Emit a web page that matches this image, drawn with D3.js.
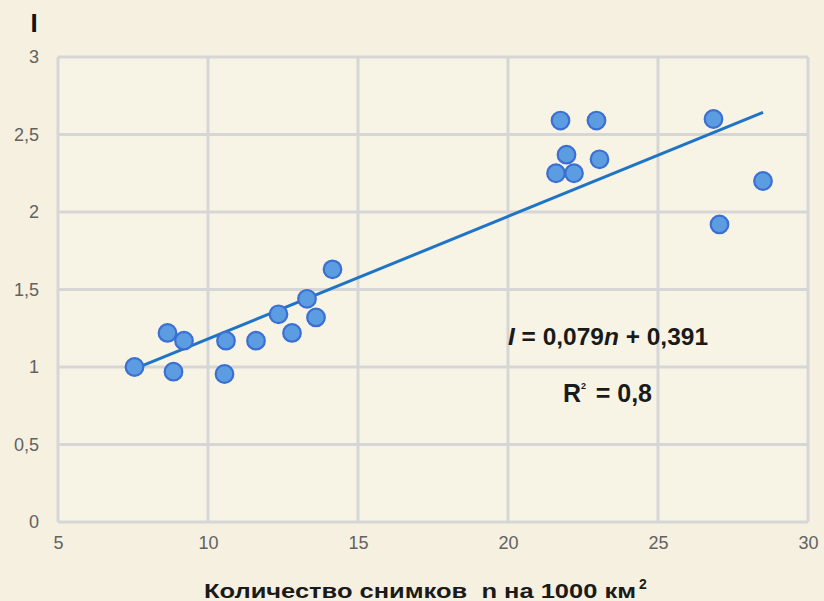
<!DOCTYPE html>
<html>
<head>
<meta charset="utf-8">
<script src="https://cdn.jsdelivr.net/npm/d3@7"></script>
<style>
  html, body { margin: 0; padding: 0; background: #f5f0e0; }
  svg { display: block; }
</style>
</head>
<body>
<svg id="chart"></svg>
<script>
// точки: количество снимков n и показатель I
const nValues = [7.55, 8.65, 8.85, 9.2, 10.6, 10.55, 11.6, 12.35, 12.8, 13.3, 13.6, 14.15,
                 21.75, 22.95, 21.95, 21.6, 22.2, 23.05, 26.85, 28.5, 27.05];
const iValues = [1.0, 1.22, 0.97, 1.17, 1.17, 0.955, 1.17, 1.34, 1.22, 1.44, 1.32, 1.63,
                 2.59, 2.59, 2.37, 2.25, 2.25, 2.34, 2.6, 2.2, 1.92];
const xTicks = [5, 10, 15, 20, 25, 30];
const yTicks = [0, 0.5, 1, 1.5, 2, 2.5, 3];
const slope = 0.079, intercept = 0.391;

const width = 824, height = 601;
const margin = { top: 57, right: 15, bottom: 79, left: 58 };
const font = "'Liberation Sans', Arial, sans-serif";

const svg = d3.select("#chart")
    .attr("width", width)
    .attr("height", height);

const x = d3.scaleLinear().domain([5, 30]).range([margin.left, width - margin.right - 1]);
const y = d3.scaleLinear().domain([0, 3]).range([height - margin.bottom, margin.top]);

const fmt = d => String(d).replace(".", ",");

// фон области построения
svg.append("rect")
    .attr("x", x(5)).attr("y", y(3))
    .attr("width", x(30) - x(5)).attr("height", y(0) - y(3))
    .attr("fill", "#f8f4e5");

// сетка
const grid = svg.append("g");
grid.selectAll(".vgrid").data(xTicks).enter().append("line")
    .attr("x1", d => x(d)).attr("x2", d => x(d))
    .attr("y1", y(0)).attr("y2", y(3))
    .attr("stroke", "#d6d6d6").attr("stroke-width", 3);
grid.selectAll(".hgrid").data(yTicks).enter().append("line")
    .attr("x1", x(5)).attr("x2", x(30))
    .attr("y1", d => y(d)).attr("y2", d => y(d))
    .attr("stroke", "#d6d6d6").attr("stroke-width", 3);

// оси (только подписи)
const xAxis = svg.append("g")
    .attr("transform", `translate(0,${y(0)})`)
    .call(d3.axisBottom(x).tickValues(xTicks).tickSize(0).tickPadding(14).tickFormat(fmt));
const yAxis = svg.append("g")
    .attr("transform", `translate(${x(5)},0)`)
    .call(d3.axisLeft(y).tickValues(yTicks).tickSize(0).tickPadding(19).tickFormat(fmt));
[xAxis, yAxis].forEach(a => {
    a.select(".domain").remove();
    a.selectAll("text")
        .style("font-family", font)
        .style("font-size", "18px")
        .attr("fill", "#626262");
});

// линия тренда
const nMin = d3.min(nValues), nMax = d3.max(nValues);
svg.append("line")
    .attr("x1", x(nMin)).attr("y1", y(slope * nMin + intercept))
    .attr("x2", x(nMax)).attr("y2", y(slope * nMax + intercept))
    .attr("stroke", "#1f74c6").attr("stroke-width", 3);

// точки
svg.selectAll(".dot").data(nValues).enter().append("circle")
    .attr("cx", d => x(d))
    .attr("cy", (d, i) => y(iValues[i]))
    .attr("r", 8.8)
    .attr("fill", "#5c9ce0")
    .attr("stroke", "#3c6fd2")
    .attr("stroke-width", 2.2);

// подписи
svg.append("text")
    .attr("x", 34).attr("y", 32)
    .attr("text-anchor", "middle")
    .style("font-family", font).style("font-size", "26px").style("font-weight", "bold")
    .attr("fill", "#111")
    .text("I");

const eq = svg.append("text")
    .attr("x", 508).attr("y", 345)
    .attr("textLength", 200).attr("lengthAdjust", "spacingAndGlyphs")
    .style("font-family", font).style("font-size", "23px").style("font-weight", "bold")
    .attr("fill", "#1a1a1a");
eq.append("tspan").style("font-style", "italic").text("I");
eq.append("tspan").text(" = 0,079");
eq.append("tspan").style("font-style", "italic").text("n");
eq.append("tspan").text(" + 0,391");

svg.append("text")
    .attr("x", 563).attr("y", 402)
    .style("font-family", font).style("font-size", "25px").style("font-weight", "bold")
    .attr("fill", "#1a1a1a")
    .text("R");
svg.append("text")
    .attr("x", 581).attr("y", 389)
    .style("font-family", font).style("font-size", "9px").style("font-weight", "bold")
    .attr("fill", "#1a1a1a")
    .text("2");
svg.append("text")
    .attr("x", 652).attr("y", 402)
    .attr("text-anchor", "end")
    .style("font-family", font).style("font-size", "25px").style("font-weight", "bold")
    .attr("fill", "#1a1a1a")
    .text("= 0,8");

svg.append("text")
    .attr("x", 204).attr("y", 598)
    .attr("textLength", 432).attr("lengthAdjust", "spacingAndGlyphs")
    .style("font-family", font).style("font-size", "21px").style("font-weight", "bold")
    .style("white-space", "pre")
    .attr("fill", "#1a1a1a")
    .text("Количество снимков  n на 1000 км");
svg.append("text")
    .attr("x", 639).attr("y", 589)
    .style("font-family", font).style("font-size", "14px").style("font-weight", "bold")
    .attr("fill", "#1a1a1a")
    .text("2");
</script>
</body>
</html>
